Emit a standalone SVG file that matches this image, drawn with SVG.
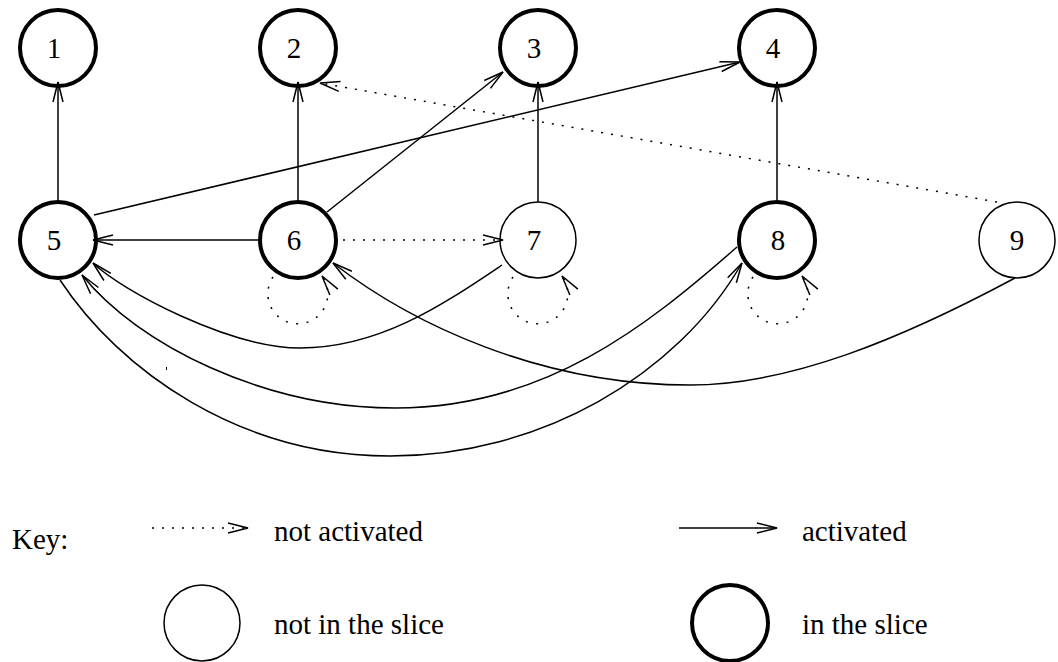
<svg xmlns="http://www.w3.org/2000/svg" width="1058" height="662" viewBox="0 0 1058 662">
  <style>
    .bg { fill: #ffffff; }
    .node { fill: none; stroke: #000; }
    .slice { stroke-width: 4; }
    .plain { stroke-width: 1.5; }
    .lbl { font-family: "Liberation Serif", "Times New Roman", serif; font-size: 29px; fill: #000; text-anchor: middle; }
    .txt { font-family: "Liberation Serif", "Times New Roman", serif; font-size: 29px; fill: #000; }
    .edge { fill: none; stroke: #000; stroke-width: 1.5; }
    .act { marker-end: url(#head); }
    .dot { stroke-dasharray: 2 8; marker-end: url(#head); }
    .loop { stroke-dasharray: 2 8.5; marker-end: url(#head); }
  </style>
  <defs>
    <marker id="head" markerUnits="userSpaceOnUse" markerWidth="30" markerHeight="20" viewBox="-25 -10 30 20" refX="0" refY="0" orient="auto" overflow="visible">
      <path d="M-20,-5 L0,0 L-20,5" fill="none" stroke="#000" stroke-width="1.5"/>
    </marker>
  </defs>
  <rect class="bg" x="0" y="0" width="1058" height="662"/>

  <!-- connectors -->
  <g id="edges">
    <!-- straight activated edges -->
    <line class="edge act" x1="58" y1="200" x2="58" y2="82"/>
    <line class="edge act" x1="298" y1="200" x2="298" y2="82"/>
    <line class="edge act" x1="538" y1="202" x2="538" y2="82"/>
    <line class="edge act" x1="777" y1="200" x2="777" y2="82"/>
    <line class="edge act" x1="259" y1="240" x2="93" y2="240"/>
    <line class="edge act" x1="327" y1="212" x2="503" y2="72"/>
    <line class="edge act" x1="94" y1="215" x2="740" y2="62"/>
    <!-- not activated edges -->
    <line class="edge dot" x1="997" y1="202" x2="320" y2="83"/>
    <line class="edge dot" x1="343" y1="240" x2="503" y2="240"/>
    <!-- self loops -->
    <path class="edge loop" d="M273,277 A30,30 0 1 0 322,276"/>
    <path class="edge loop" d="M513,277 A30,30 0 1 0 562,276"/>
    <path class="edge loop" d="M753,277 A30,30 0 1 0 802,276"/>
    <!-- curved activated edges -->
    <path class="edge act" d="M502,265 C444,304 380,348 300,348 C230,348 122,291 93,263"/>
    <path class="edge act" d="M737,247 C647,326 545,408 395,408 C265,408 138,345 82,275"/>
    <path class="edge act" d="M60,280 C120,371 240,456 390,456 C540,456 677,376 742,263"/>
    <path class="edge act" d="M1015,278 C901,339 790,385 690,385 C540,385 412,324 333,263"/>
  </g>

  <!-- nodes -->
  <g id="n1"><circle class="node slice" cx="58" cy="48" r="38"/><text class="lbl" x="54" y="58">1</text></g>
  <g id="n2"><circle class="node slice" cx="298" cy="48" r="38"/><text class="lbl" x="294" y="58">2</text></g>
  <g id="n3"><circle class="node slice" cx="538" cy="48" r="38"/><text class="lbl" x="534" y="58">3</text></g>
  <g id="n4"><circle class="node slice" cx="777" cy="48" r="38"/><text class="lbl" x="773" y="58">4</text></g>
  <g id="n5"><circle class="node slice" cx="58" cy="240" r="38"/><text class="lbl" x="54" y="250">5</text></g>
  <g id="n6"><circle class="node slice" cx="298" cy="240" r="38"/><text class="lbl" x="294" y="250">6</text></g>
  <g id="n7"><circle class="node plain" cx="538" cy="240" r="38"/><text class="lbl" x="534" y="250">7</text></g>
  <g id="n8"><circle class="node slice" cx="777" cy="240" r="38"/><text class="lbl" x="778" y="250">8</text></g>
  <g id="n9"><circle class="node plain" cx="1017" cy="240" r="38"/><text class="lbl" x="1017" y="250">9</text></g>

  <!-- stray mark -->
  <rect x="166" y="367" width="1" height="3" fill="#000"/>

  <!-- key -->
  <g id="key">
    <text class="txt" x="12" y="549">Key:</text>
    <line class="edge dot" x1="152" y1="528" x2="248" y2="528"/>
    <text class="txt" x="274" y="541">not activated</text>
    <line class="edge act" x1="679" y1="528" x2="777" y2="528"/>
    <text class="txt" x="802" y="541">activated</text>
    <circle class="node plain" cx="202" cy="623" r="38"/>
    <text class="txt" x="274" y="634">not in the slice</text>
    <circle class="node slice" cx="730" cy="623" r="38"/>
    <text class="txt" x="802" y="634">in the slice</text>
  </g>
</svg>
